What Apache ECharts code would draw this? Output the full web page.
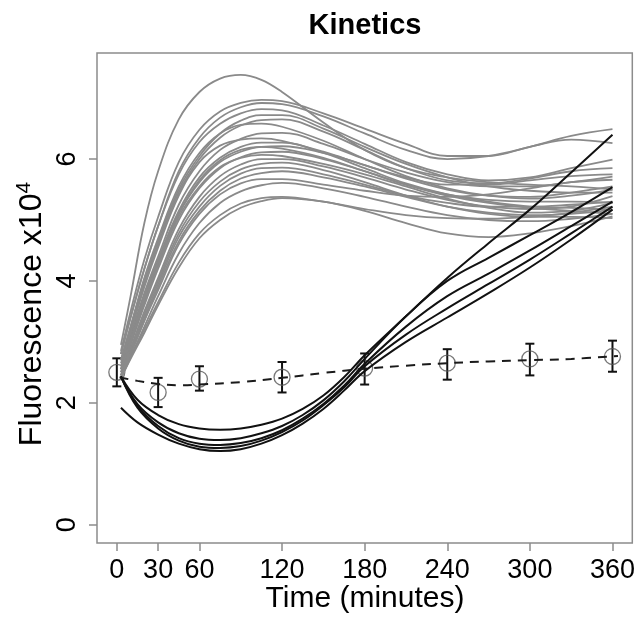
<!DOCTYPE html>
<html>
<head>
<meta charset="utf-8">
<title>Kinetics</title>
<script src="https://cdn.jsdelivr.net/npm/echarts@6.0.0/dist/echarts.min.js"></script>
<style>
	html, body { margin: 0; padding: 0; background: #fff; }
	#main { width: 638px; height: 625px; }
</style>
</head>
<body>
<div id="main"></div>
<script>
	// tick labels
	const xTicks = [0, 30, 60, 120, 180, 240, 300, 360];
	const yTicks = [0, 2, 4, 6];

	// time points of the fitted curves (minutes)
	const grayX = [3, 10, 20, 30, 45, 60, 75, 90, 105, 120, 150, 180, 210, 240, 270, 300, 330, 360];
	const gray01 = [2.95, 3.75, 4.95, 5.80, 6.65, 7.10, 7.32, 7.38, 7.30, 7.10, 6.60, 6.15, 5.85, 5.70, 5.62, 5.58, 5.55, 5.50];
	const gray02 = [2.85, 3.50, 4.35, 5.05, 5.95, 6.48, 6.78, 6.92, 6.97, 6.95, 6.75, 6.50, 6.25, 6.05, 6.05, 6.20, 6.32, 6.26];
	const gray03 = [2.80, 3.40, 4.20, 4.90, 5.80, 6.35, 6.68, 6.85, 6.92, 6.90, 6.70, 6.42, 6.15, 6.00, 6.05, 6.20, 6.38, 6.49];
	const gray04 = [2.80, 3.40, 4.20, 4.90, 5.75, 6.28, 6.58, 6.75, 6.82, 6.80, 6.55, 6.25, 5.95, 5.75, 5.65, 5.70, 5.85, 5.99];
	const gray05 = [2.70, 3.25, 4.00, 4.65, 5.50, 6.05, 6.42, 6.63, 6.72, 6.72, 6.50, 6.20, 5.92, 5.70, 5.55, 5.48, 5.45, 5.45];
	const gray06 = [2.70, 3.20, 3.95, 4.60, 5.45, 6.00, 6.35, 6.55, 6.64, 6.65, 6.45, 6.15, 5.85, 5.65, 5.60, 5.68, 5.80, 5.85];
	const gray07 = [2.60, 3.10, 3.80, 4.40, 5.25, 5.80, 6.15, 6.33, 6.42, 6.43, 6.25, 6.00, 5.78, 5.62, 5.55, 5.55, 5.62, 5.71];
	const gray08 = [2.60, 3.05, 3.75, 4.35, 5.15, 5.70, 6.02, 6.20, 6.27, 6.27, 6.10, 5.85, 5.60, 5.42, 5.30, 5.22, 5.20, 5.17];
	const gray09 = [2.55, 3.00, 3.70, 4.30, 5.10, 5.62, 5.95, 6.12, 6.20, 6.21, 6.10, 5.90, 5.68, 5.50, 5.40, 5.38, 5.45, 5.55];
	const gray10 = [2.50, 2.95, 3.60, 4.20, 5.00, 5.52, 5.85, 6.03, 6.11, 6.12, 6.00, 5.80, 5.58, 5.40, 5.28, 5.20, 5.15, 5.10];
	const gray11 = [2.55, 3.00, 3.65, 4.25, 5.05, 5.55, 5.87, 6.02, 6.07, 6.05, 5.92, 5.75, 5.55, 5.35, 5.20, 5.12, 5.15, 5.28];
	const gray12 = [2.50, 2.90, 3.50, 4.05, 4.85, 5.38, 5.72, 5.91, 6.00, 6.00, 5.88, 5.70, 5.50, 5.33, 5.22, 5.18, 5.22, 5.39];
	const gray13 = [2.45, 2.85, 3.45, 4.00, 4.78, 5.30, 5.63, 5.83, 5.92, 5.94, 5.82, 5.62, 5.40, 5.22, 5.10, 5.05, 5.05, 5.03];
	const gray14 = [2.45, 2.85, 3.40, 3.95, 4.72, 5.22, 5.56, 5.76, 5.85, 5.86, 5.75, 5.58, 5.40, 5.28, 5.22, 5.22, 5.25, 5.30];
	const gray15 = [2.45, 2.80, 3.35, 3.90, 4.65, 5.15, 5.48, 5.68, 5.77, 5.80, 5.70, 5.55, 5.38, 5.22, 5.12, 5.08, 5.10, 5.17];
	const gray16 = [2.40, 2.75, 3.25, 3.75, 4.45, 4.95, 5.28, 5.47, 5.57, 5.61, 5.52, 5.38, 5.22, 5.08, 5.00, 4.98, 5.02, 5.10];
	const gray17 = [2.40, 2.72, 3.15, 3.60, 4.22, 4.70, 5.00, 5.20, 5.31, 5.36, 5.30, 5.15, 4.95, 4.78, 4.72, 4.78, 4.90, 5.06];
	const gray18 = [2.42, 2.75, 3.20, 3.65, 4.30, 4.78, 5.08, 5.27, 5.36, 5.38, 5.30, 5.18, 5.08, 5.03, 5.02, 5.05, 5.12, 5.22];
	const gray19 = [2.45, 2.80, 3.35, 3.85, 4.60, 5.10, 5.42, 5.60, 5.67, 5.67, 5.58, 5.48, 5.40, 5.38, 5.42, 5.52, 5.62, 5.66];
	const gray20 = [2.55, 3.00, 3.70, 4.30, 5.10, 5.65, 5.98, 6.15, 6.20, 6.17, 6.02, 5.80, 5.58, 5.42, 5.33, 5.30, 5.30, 5.28];
	const gray21 = [2.65, 3.15, 3.90, 4.55, 5.40, 5.95, 6.22, 6.32, 6.34, 6.30, 6.12, 5.90, 5.70, 5.58, 5.58, 5.65, 5.72, 5.75];
	const gray22 = [2.70, 3.25, 4.05, 4.70, 5.55, 6.10, 6.42, 6.56, 6.58, 6.53, 6.30, 6.00, 5.72, 5.52, 5.40, 5.35, 5.40, 5.50];
	const grayCurves = [gray01, gray02, gray03, gray04, gray05, gray06, gray07, gray08, gray09, gray10, gray11,
		gray12, gray13, gray14, gray15, gray16, gray17, gray18, gray19, gray20, gray21, gray22];

	const blackX = [3, 15, 30, 45, 60, 75, 90, 105, 120, 135, 150, 165, 180, 210, 240, 270, 300, 330, 360];
	const black1 = [2.43, 2.05, 1.80, 1.65, 1.58, 1.56, 1.58, 1.64, 1.74, 1.90, 2.12, 2.42, 2.78, 3.42, 4.05, 4.62, 5.17, 5.78, 6.40];
	const black2 = [2.43, 1.98, 1.68, 1.50, 1.41, 1.39, 1.42, 1.50, 1.62, 1.80, 2.04, 2.35, 2.72, 3.42, 4.00, 4.38, 4.75, 5.13, 5.54];
	const black3 = [2.43, 1.95, 1.62, 1.42, 1.33, 1.31, 1.34, 1.42, 1.55, 1.74, 1.98, 2.28, 2.64, 3.25, 3.75, 4.12, 4.50, 4.90, 5.30];
	const black4 = [2.43, 1.92, 1.58, 1.38, 1.28, 1.26, 1.29, 1.38, 1.52, 1.71, 1.96, 2.25, 2.60, 3.12, 3.55, 3.95, 4.35, 4.78, 5.22];
	const black5 = [1.92, 1.68, 1.48, 1.33, 1.24, 1.21, 1.24, 1.33, 1.47, 1.66, 1.90, 2.20, 2.52, 3.00, 3.40, 3.80, 4.22, 4.68, 5.17];
	const blackCurves = [black1, black2, black3, black4, black5];

	// mean +/- error, with the smooth fit drawn dashed
	const meanX = [0, 30, 60, 120, 180, 240, 300, 360];
	const meanY = [2.50, 2.17, 2.39, 2.42, 2.57, 2.65, 2.72, 2.76];
	const errLow = [2.27, 1.93, 2.20, 2.17, 2.30, 2.38, 2.45, 2.51];
	const errHigh = [2.73, 2.41, 2.60, 2.67, 2.81, 2.88, 2.97, 3.02];
	const fitX = [2, 15, 30, 45, 60, 90, 120, 150, 180, 210, 240, 270, 300, 330, 364];
	const fitY = [2.42, 2.36, 2.31, 2.29, 2.30, 2.34, 2.41, 2.49, 2.56, 2.61, 2.65, 2.68, 2.70, 2.72, 2.77];

	const font = 'Liberation Sans';
	const frame = '#8c8c8c';

	function pairs(xs, ys) {
		return xs.map((x, i) => [x, ys[i]]);
	}

	let series = [];
	grayCurves.forEach(c => {
		series.push({
			type: 'line',
			data: pairs(grayX, c),
			smooth: 0.4,
			showSymbol: false,
			silent: true,
			lineStyle: { color: '#8a8a8a', width: 1.8 }
		});
	});
	blackCurves.forEach(c => {
		series.push({
			type: 'line',
			data: pairs(blackX, c),
			smooth: 0.4,
			showSymbol: false,
			silent: true,
			lineStyle: { color: '#111', width: 2 }
		});
	});
	series.push({
		type: 'line',
		data: pairs(fitX, fitY),
		smooth: 0.4,
		showSymbol: false,
		silent: true,
		lineStyle: { color: '#1a1a1a', width: 2, type: [9, 7] }
	});
	// error bars
	series.push({
		type: 'custom',
		silent: true,
		data: meanX.map((x, i) => [x, errLow[i], errHigh[i]]),
		renderItem: function (params, api) {
			const lo = api.coord([api.value(0), api.value(1)]);
			const hi = api.coord([api.value(0), api.value(2)]);
			const w = 4.5;
			const st = { stroke: '#111', lineWidth: 2 };
			return {
				type: 'group',
				children: [
					{ type: 'line', shape: { x1: lo[0], y1: lo[1], x2: hi[0], y2: hi[1] }, style: st },
					{ type: 'line', shape: { x1: lo[0] - w, y1: lo[1], x2: lo[0] + w, y2: lo[1] }, style: st },
					{ type: 'line', shape: { x1: hi[0] - w, y1: hi[1], x2: hi[0] + w, y2: hi[1] }, style: st }
				]
			};
		}
	});
	series.push({
		type: 'scatter',
		data: pairs(meanX, meanY),
		symbol: 'circle',
		symbolSize: 16,
		silent: true,
		itemStyle: { color: 'rgba(0,0,0,0)', borderColor: '#555', borderWidth: 1.3 }
	});

	let myChart = echarts.init(document.getElementById('main'));
	myChart.setOption({
		animation: false,
		grid: {
			left: 97, right: 5, top: 53, bottom: 82,
			show: true,
			borderColor: frame,
			borderWidth: 1.5
		},
		xAxis: {
			type: 'value',
			min: -14.4,
			max: 374.4,
			axisLine: { show: false, onZero: false },
			splitLine: { show: false },
			axisTick: { show: true, length: 8, customValues: xTicks, lineStyle: { color: frame, width: 1.5 } },
			axisLabel: { customValues: xTicks, margin: 14, fontSize: 27, color: '#000', fontFamily: font }
		},
		yAxis: {
			type: 'value',
			min: -0.3,
			max: 7.74,
			axisLine: { show: false, onZero: false },
			splitLine: { show: false },
			axisTick: { show: true, length: 8, customValues: yTicks, lineStyle: { color: frame, width: 1.5 } },
			axisLabel: { customValues: yTicks, rotate: 90, margin: 16, fontSize: 27, color: '#000', fontFamily: font }
		},
		graphic: [
			{
				type: 'text', x: 365, y: 26,
				style: { text: 'Kinetics', fontSize: 29, fontWeight: 'bold', fontFamily: font, fill: '#000', align: 'center', verticalAlign: 'middle' }
			},
			{
				type: 'text', x: 365, y: 599,
				style: { text: 'Time (minutes)', fontSize: 30, fontFamily: font, fill: '#000', align: 'center', verticalAlign: 'middle' }
			},
			{
				type: 'text', x: 32, y: 314, rotation: Math.PI / 2,
				style: {
					text: 'Fluorescence x10{s|4}',
					fontSize: 32, fontFamily: font, fill: '#000', align: 'center', verticalAlign: 'middle',
					rich: { s: { fontSize: 21, fontFamily: font, fill: '#000', verticalAlign: 'bottom', padding: [0, 0, 15, 0] } }
				}
			}
		],
		series: series
	});
</script>
</body>
</html>
